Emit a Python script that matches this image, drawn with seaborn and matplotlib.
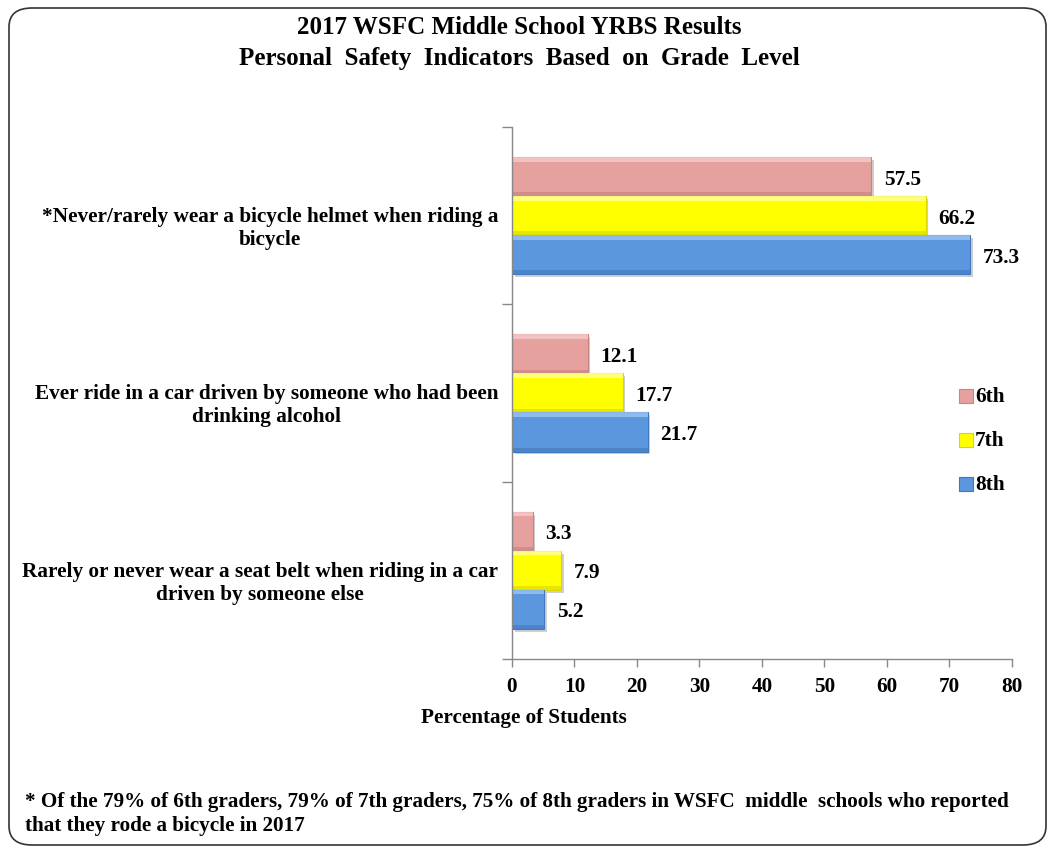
import matplotlib
matplotlib.use("Agg")
import matplotlib.pyplot as plt
import matplotlib.patheffects as pe
from matplotlib.patches import FancyBboxPatch, Rectangle
from matplotlib.transforms import ScaledTranslation
import pandas as pd
import seaborn as sns

categories = [
    "*Never/rarely wear a bicycle helmet when riding a\nbicycle",
    "Ever ride in a car driven by someone who had been\ndrinking alcohol",
    "Rarely or never wear a seat belt when riding in a car\ndriven by someone else",
]
grades = ["6th", "7th", "8th"]
grade_6 = [57.5, 12.1, 3.3]
grade_7 = [66.2, 17.7, 7.9]
grade_8 = [73.3, 21.7, 5.2]
x_ticks = [0, 10, 20, 30, 40, 50, 60, 70, 80]

palette = {"6th": "#E6A19F", "7th": "#FFFF00", "8th": "#5B97DE"}
rims = {"6th": "#C98583", "7th": "#D8D800", "8th": "#3F78BE"}
highlights = {"6th": "#F4CBCA", "7th": "#FFFF99", "8th": "#9CC4F2"}
lowlights = {"6th": "#B87674", "7th": "#C8C800", "8th": "#3A6DAD"}

rows = []
for g, vals in zip(grades, [grade_6, grade_7, grade_8]):
    for c, v in zip(categories, vals):
        rows.append({"Indicator": c, "Grade": g, "Percent": v})
df = pd.DataFrame(rows)

sns.set_theme(style="white")
plt.rcParams["font.family"] = ["Liberation Serif", "DejaVu Serif"]
plt.rcParams["font.weight"] = "bold"
plt.rcParams["text.color"] = "black"
plt.rcParams["xtick.color"] = "black"
plt.rcParams["ytick.color"] = "black"

fig = plt.figure(figsize=(10.55, 8.54), dpi=100)
ax = fig.add_axes([0.4853, 0.2272, 0.4739, 0.6229])

sns.barplot(data=df, y="Indicator", x="Percent", hue="Grade", order=categories,
            hue_order=grades, palette=palette, orient="h", width=0.66,
            saturation=1, edgecolor="none", legend=False, ax=ax)

# bevelled look: rim, light top strip, dark bottom strip and a drop shadow
for container, g in zip(ax.containers, grades):
    for bar in container:
        bar.set_edgecolor(rims[g])
        bar.set_linewidth(0.8)
        bar.set_path_effects([pe.SimplePatchShadow(offset=(2, -2), alpha=0.35,
                                                   shadow_rgbFace="#777777"),
                              pe.Normal()])
        x0, y0 = bar.get_x(), bar.get_y()
        w, h = bar.get_width(), bar.get_height()
        ax.add_patch(Rectangle((x0, y0), w, h * 0.12, facecolor=highlights[g],
                               edgecolor="none", alpha=0.8, zorder=bar.get_zorder() + 0.1))
        ax.add_patch(Rectangle((x0, y0 + h * 0.9), w, h * 0.1, facecolor=lowlights[g],
                               edgecolor="none", alpha=0.45, zorder=bar.get_zorder() + 0.1))
    anns = ax.bar_label(container, labels=[f"{b.get_width():.1f}" for b in container],
                        padding=9, fontsize=15.3, fontweight="bold", color="black")
    for a in anns:
        a.xyann = (9, -1.5)

ax.set_xlim(0, 80)
ax.set_ylim(2.5, -0.5)
ax.set_xticks(x_ticks)
ax.set_xticklabels([str(t) for t in x_ticks], fontsize=15.3, fontweight="bold")
ax.set_yticks([0, 1, 2])
ax.set_yticklabels(categories, fontsize=15.3, fontweight="bold", linespacing=1.2)
ax.set_yticks([-0.5, 0.5, 1.5, 2.5], minor=True)
ax.tick_params(axis="y", which="major", length=0, pad=10)
ax.tick_params(axis="y", which="minor", length=7, width=1, color="#888888",
               direction="out", left=True)
ax.tick_params(axis="x", which="major", length=6, width=1, color="#888888",
               direction="out", bottom=True, pad=6)
ax.set_xlabel("")
ax.set_ylabel("")
for s in ["top", "right"]:
    ax.spines[s].set_visible(False)
for s in ["left", "bottom"]:
    ax.spines[s].set_color("#888888")
    ax.spines[s].set_linewidth(1)

# category labels: centred lines, nudged a little below the group centre
shift = ScaledTranslation(0, -8 / 100, fig.dpi_scale_trans)
for t in ax.yaxis.get_major_ticks():
    t.label1.set_multialignment("center")
    t.label1.set_transform(t.label1.get_transform() + shift)

# legend
for i, g in enumerate(grades):
    y = 1 - (397 + 44 * i) / 854
    fig.patches.append(FancyBboxPatch((959 / 1055, y - 0.0085), 0.0133, 0.017,
                                      boxstyle="square,pad=0", transform=fig.transFigure,
                                      facecolor=palette[g], edgecolor=rims[g], linewidth=0.8))
    fig.text(975 / 1055, y, g, fontsize=15.3, fontweight="bold", va="center", ha="left")

fig.text(519 / 1055, 1 - 28 / 854, "2017 WSFC Middle School YRBS Results",
         ha="center", va="center", fontsize=18, fontweight="bold")
fig.text(519 / 1055, 1 - 59 / 854, "Personal  Safety  Indicators  Based  on  Grade  Level",
         ha="center", va="center", fontsize=18, fontweight="bold")
fig.text(524 / 1055, 1 - 718 / 854, "Percentage of Students",
         ha="center", va="center", fontsize=15.2, fontweight="bold")
fig.text(25 / 1055, 1 - 802 / 854,
         "* Of the 79% of 6th graders, 79% of 7th graders, 75% of 8th graders in WSFC  middle  schools who reported",
         ha="left", va="center", fontsize=15.2, fontweight="bold")
fig.text(25 / 1055, 1 - 826 / 854, "that they rode a bicycle in 2017",
         ha="left", va="center", fontsize=15.2, fontweight="bold")

# rounded frame around the chart
fig.patches.append(FancyBboxPatch((9 / 1055, 8 / 854), 1037 / 1055, 837 / 854,
                                  boxstyle="round,pad=0,rounding_size=0.022",
                                  transform=fig.transFigure, facecolor="none",
                                  edgecolor="#333333", linewidth=1.2))

fig.savefig("out.png", dpi=100)
